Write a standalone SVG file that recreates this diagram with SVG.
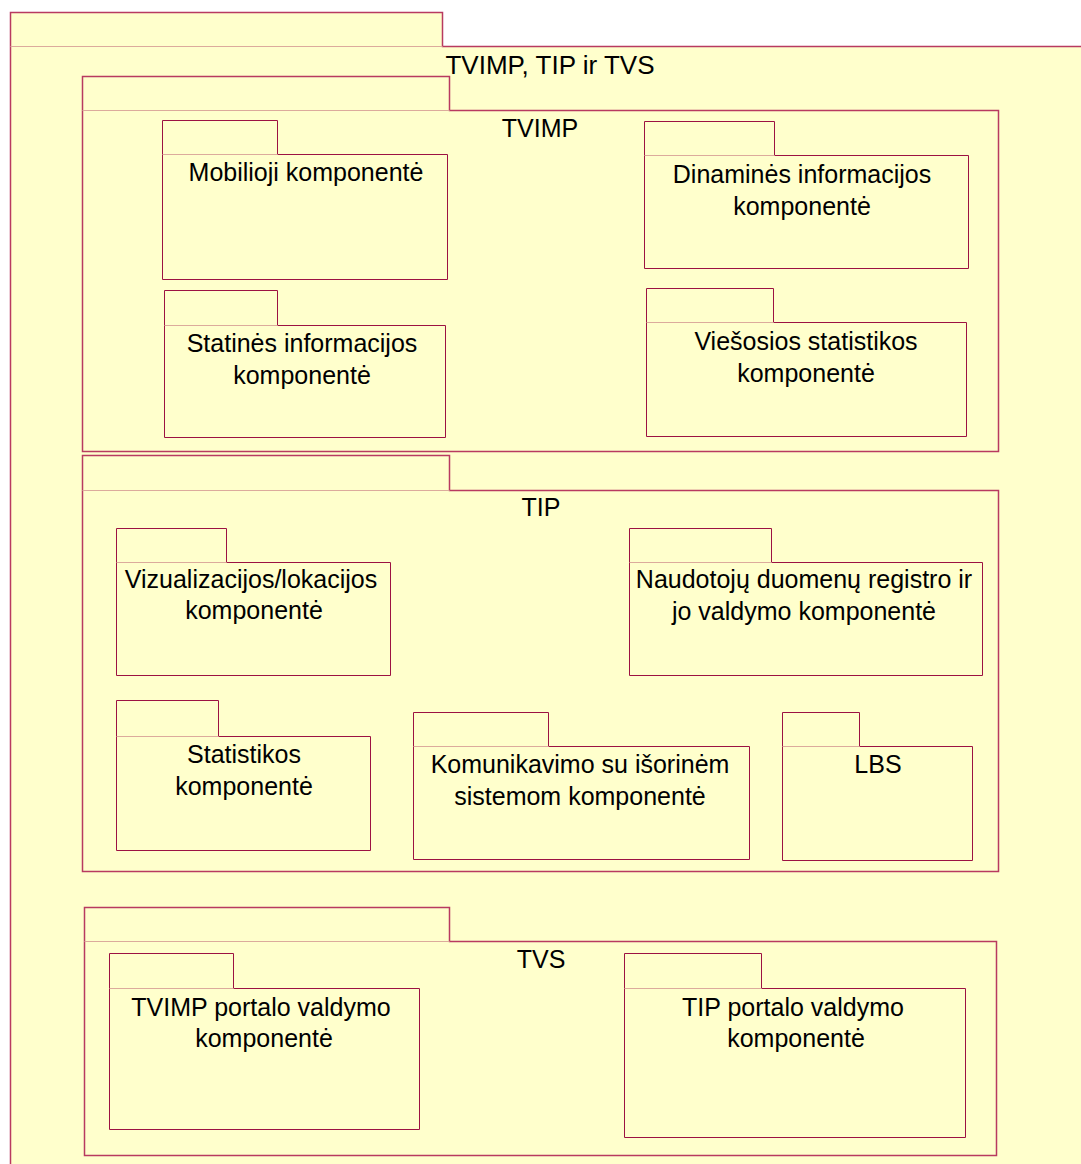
<svg xmlns="http://www.w3.org/2000/svg" width="1081" height="1164" viewBox="0 0 1081 1164">
  <style>
    .pkg { fill: #ffffcc; stroke: #9c1242; stroke-width: 1; }
    .outer { stroke: #b83a60; stroke-width: 1.5; }
    .sep { fill: none; stroke: #dcab9c; stroke-width: 1; }
    .lbl { font-family: "Liberation Sans", Arial, sans-serif; font-size: 25px; text-anchor: middle; fill: #000000; }
    .title { font-size: 26px; }
  </style>
  <rect x="0" y="0" width="1081" height="1164" fill="#ffffff"/>

  <!-- Top-level package: TVIMP, TIP ir TVS (extends past the page) -->
  <g id="pkg-root">
    <path class="pkg outer" d="M10.5,12.5 H442.5 V46.5 H1100 V1190 H10.5 Z"/>
    <line class="sep" x1="10.5" y1="46.5" x2="442.5" y2="46.5"/>
    <text class="lbl title" x="550" y="74">TVIMP, TIP ir TVS</text>
  </g>

  <!-- TVIMP package -->
  <g id="pkg-tvimp">
    <path class="pkg outer" d="M82.5,76.5 H449.5 V110.5 H998.5 V451.5 H82.5 Z"/>
    <line class="sep" x1="82.5" y1="110.5" x2="449.5" y2="110.5"/>
    <text class="lbl" x="540" y="137">TVIMP</text>
  </g>

  <g id="pkg-mobilioji">
    <path class="pkg" d="M162.5,120.5 H277.5 V154.5 H447.5 V279.5 H162.5 Z"/>
    <line class="sep" x1="162.5" y1="154.5" x2="277.5" y2="154.5"/>
    <text class="lbl" x="306" y="181">Mobilioji komponentė</text>
  </g>

  <g id="pkg-dinamines">
    <path class="pkg" d="M644.5,121.5 H774.5 V155.5 H968.5 V268.5 H644.5 Z"/>
    <line class="sep" x1="644.5" y1="155.5" x2="774.5" y2="155.5"/>
    <text class="lbl" x="802" y="183">Dinaminės informacijos</text>
    <text class="lbl" x="802" y="215">komponentė</text>
  </g>

  <g id="pkg-statines">
    <path class="pkg" d="M164.5,290.5 H277.5 V325.5 H445.5 V437.5 H164.5 Z"/>
    <line class="sep" x1="164.5" y1="325.5" x2="277.5" y2="325.5"/>
    <text class="lbl" x="302" y="352">Statinės informacijos</text>
    <text class="lbl" x="302" y="384">komponentė</text>
  </g>

  <g id="pkg-viesosios">
    <path class="pkg" d="M646.5,288.5 H773.5 V322.5 H966.5 V436.5 H646.5 Z"/>
    <line class="sep" x1="646.5" y1="322.5" x2="773.5" y2="322.5"/>
    <text class="lbl" x="806" y="350">Viešosios statistikos</text>
    <text class="lbl" x="806" y="382">komponentė</text>
  </g>

  <!-- TIP package -->
  <g id="pkg-tip">
    <path class="pkg outer" d="M82.5,455.5 H449.5 V490.5 H998.5 V871.5 H82.5 Z"/>
    <line class="sep" x1="82.5" y1="490.5" x2="449.5" y2="490.5"/>
    <text class="lbl" x="541" y="516">TIP</text>
  </g>

  <g id="pkg-vizualizacijos">
    <path class="pkg" d="M116.5,528.5 H226.5 V562.5 H390.5 V675.5 H116.5 Z"/>
    <line class="sep" x1="116.5" y1="562.5" x2="226.5" y2="562.5"/>
    <text class="lbl" x="251" y="588">Vizualizacijos/lokacijos</text>
    <text class="lbl" x="254" y="619">komponentė</text>
  </g>

  <g id="pkg-naudotoju">
    <path class="pkg" d="M629.5,528.5 H771.5 V562.5 H982.5 V675.5 H629.5 Z"/>
    <line class="sep" x1="629.5" y1="562.5" x2="771.5" y2="562.5"/>
    <text class="lbl" x="804" y="588">Naudotojų duomenų registro ir</text>
    <text class="lbl" x="804" y="620">jo valdymo komponentė</text>
  </g>

  <g id="pkg-statistikos">
    <path class="pkg" d="M116.5,700.5 H218.5 V736.5 H370.5 V850.5 H116.5 Z"/>
    <line class="sep" x1="116.5" y1="736.5" x2="218.5" y2="736.5"/>
    <text class="lbl" x="244" y="763">Statistikos</text>
    <text class="lbl" x="244" y="795">komponentė</text>
  </g>

  <g id="pkg-komunikavimo">
    <path class="pkg" d="M413.5,712.5 H548.5 V746.5 H749.5 V859.5 H413.5 Z"/>
    <line class="sep" x1="413.5" y1="746.5" x2="548.5" y2="746.5"/>
    <text class="lbl" x="580" y="773">Komunikavimo su išorinėm</text>
    <text class="lbl" x="580" y="805">sistemom komponentė</text>
  </g>

  <g id="pkg-lbs">
    <path class="pkg" d="M782.5,712.5 H859.5 V746.5 H972.5 V860.5 H782.5 Z"/>
    <line class="sep" x1="782.5" y1="746.5" x2="859.5" y2="746.5"/>
    <text class="lbl" x="878" y="773">LBS</text>
  </g>

  <!-- TVS package -->
  <g id="pkg-tvs">
    <path class="pkg outer" d="M84.5,907.5 H449.5 V941.5 H996.5 V1155.5 H84.5 Z"/>
    <line class="sep" x1="84.5" y1="941.5" x2="449.5" y2="941.5"/>
    <text class="lbl" x="541" y="968">TVS</text>
  </g>

  <g id="pkg-tvimp-portalo">
    <path class="pkg" d="M109.5,953.5 H233.5 V988.5 H419.5 V1129.5 H109.5 Z"/>
    <line class="sep" x1="109.5" y1="988.5" x2="233.5" y2="988.5"/>
    <text class="lbl" x="261" y="1016">TVIMP portalo valdymo</text>
    <text class="lbl" x="264" y="1047">komponentė</text>
  </g>

  <g id="pkg-tip-portalo">
    <path class="pkg" d="M624.5,953.5 H761.5 V988.5 H965.5 V1137.5 H624.5 Z"/>
    <line class="sep" x1="624.5" y1="988.5" x2="761.5" y2="988.5"/>
    <text class="lbl" x="793" y="1016">TIP portalo valdymo</text>
    <text class="lbl" x="796" y="1047">komponentė</text>
  </g>

  <!-- no dependencies are drawn between the packages -->
  <g id="connectors"/>
</svg>
